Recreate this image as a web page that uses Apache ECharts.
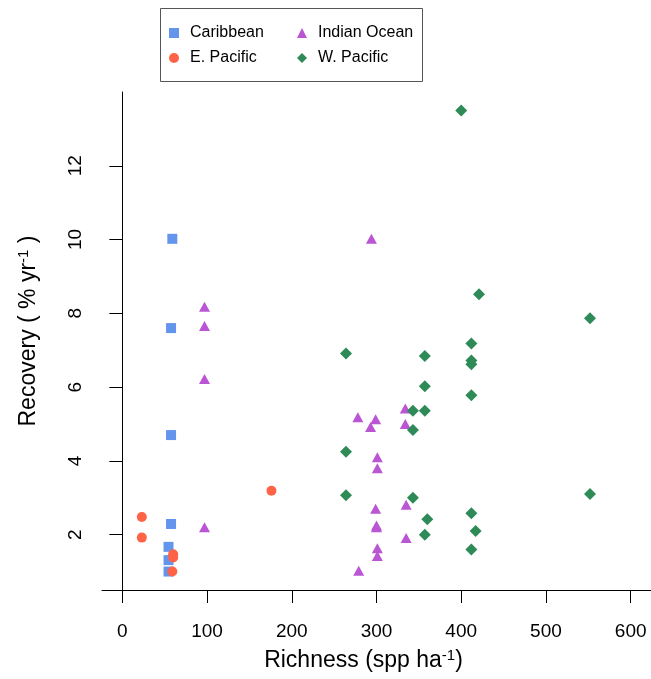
<!DOCTYPE html>
<html><head><meta charset="utf-8">
<script src="https://cdn.jsdelivr.net/npm/echarts@6/dist/echarts.min.js"></script>
<style>html,body{margin:0;padding:0;background:#fff}#c{width:651px;height:679px}</style>
</head><body><div id="c"></div>
<script>
// Data
const caribbeanX = [59, 57.5, 57.5, 57.5, 54.5, 54.5, 54.5];
const caribbeanY = [10.02, 7.60, 4.70, 2.29, 1.67, 1.31, 1.0];

const ePacificX = [23, 23, 60, 60, 59, 176];
const ePacificY = [2.48, 1.92, 1.47, 1.38, 1.0, 3.19];

const indianX = [97, 97, 97, 97, 294, 278, 299, 293, 334, 334, 301, 301, 299, 300, 300, 335, 335, 301, 301, 279];
const indianY = [8.18, 7.66, 6.22, 2.20, 10.02, 5.18, 5.13, 4.92, 5.42, 5.0, 4.10, 3.80, 2.70, 2.25, 2.20, 2.81, 1.91, 1.63, 1.42, 1.02];

const wPacificX = [400, 421, 552, 412, 412, 412, 264, 357, 357, 412, 343, 357, 343, 264, 264, 343, 552, 412, 360, 417, 357, 412];
const wPacificY = [13.5, 8.52, 7.87, 7.18, 6.72, 6.62, 6.91, 6.84, 6.02, 5.78, 5.36, 5.36, 4.84, 4.25, 3.07, 3.0, 3.1, 2.58, 2.42, 2.1, 2.0, 1.6];

const xTicks = [0, 100, 200, 300, 400, 500, 600];
const yTicks = [2, 4, 6, 8, 10, 12];

const pairs = (xs, ys) => xs.map((x, i) => [x, ys[i]]);
const FONT = 'Liberation Sans, Arial, Helvetica, sans-serif';

const chart = echarts.init(document.getElementById('c'), null, {renderer: 'canvas'});
const legendText = {fontFamily: FONT, fontSize: 16, color: '#000', lineHeight: 16, padding: [0, 0, 0, 6]};
chart.setOption({
  animation: false,
  backgroundColor: '#fff',
  grid: {left: 102, right: 0, top: 92, bottom: 87, containLabel: false},
  graphic: [{
    type: 'rect', left: 160, top: 8, z: 0,
    shape: {width: 262, height: 73},
    style: {fill: '#fff', stroke: '#555', lineWidth: 1}
  }],
  legend: [
    {orient: 'vertical', left: 169, top: 25, padding: 0, itemGap: 9, itemWidth: 10, itemHeight: 10,
     data: ['Caribbean', 'E. Pacific'], textStyle: legendText, selectedMode: false},
    {orient: 'vertical', left: 297, top: 25, padding: 0, itemGap: 9, itemWidth: 10, itemHeight: 10,
     data: ['Indian Ocean', 'W. Pacific'], textStyle: legendText, selectedMode: false}
  ],
  xAxis: {
    type: 'value', min: -24, max: 624,
    splitLine: {show: false},
    axisLine: {show: true, lineStyle: {color: '#000', width: 1}},
    axisTick: {show: true, length: 13, customValues: xTicks, lineStyle: {color: '#000'}},
    axisLabel: {customValues: xTicks, margin: 32, fontFamily: FONT, fontSize: 19, color: '#000'},
    name: 'Richness (spp ha{s|-1})',
    nameLocation: 'middle', nameGap: 58,
    nameTextStyle: {fontFamily: FONT, fontSize: 23, color: '#000', lineHeight: 26, padding: [0, 26, 0, 0],
      rich: {s: {fontFamily: FONT, fontSize: 15, color: '#000', verticalAlign: 'top', lineHeight: 15}}}
  },
  yAxis: {
    type: 'value', min: 0.5, max: 14,
    splitLine: {show: false},
    axisLine: {show: true, lineStyle: {color: '#000', width: 1}},
    axisTick: {show: true, length: 13, customValues: yTicks, lineStyle: {color: '#000'}},
    axisLabel: {customValues: yTicks, rotate: 90, margin: 17, fontFamily: FONT, fontSize: 19, color: '#000'},
    name: 'Recovery ( % yr{s|-1} )',
    nameLocation: 'middle', nameGap: 60, nameRotate: 90,
    nameTextStyle: {fontFamily: FONT, fontSize: 23, color: '#000', lineHeight: 26, padding: [0, 0, 0, 20],
      rich: {s: {fontFamily: FONT, fontSize: 15, color: '#000', verticalAlign: 'top', lineHeight: 15}}}
  },
  series: [
    {name: 'Caribbean', type: 'scatter', symbol: 'rect', symbolSize: 10,
     itemStyle: {color: '#6495ED', opacity: 1}, data: pairs(caribbeanX, caribbeanY)},
    {name: 'E. Pacific', type: 'scatter', symbol: 'circle', symbolSize: 10,
     itemStyle: {color: '#FF6347', opacity: 1}, data: pairs(ePacificX, ePacificY)},
    {name: 'Indian Ocean', type: 'scatter', symbol: 'triangle', symbolSize: [11, 10],
     itemStyle: {color: '#BA55D3', opacity: 1}, data: pairs(indianX, indianY)},
    {name: 'W. Pacific', type: 'scatter', symbol: 'diamond', symbolSize: 12,
     itemStyle: {color: '#2E8B57', opacity: 1}, data: pairs(wPacificX, wPacificY)}
  ]
});
</script>
</body></html>
